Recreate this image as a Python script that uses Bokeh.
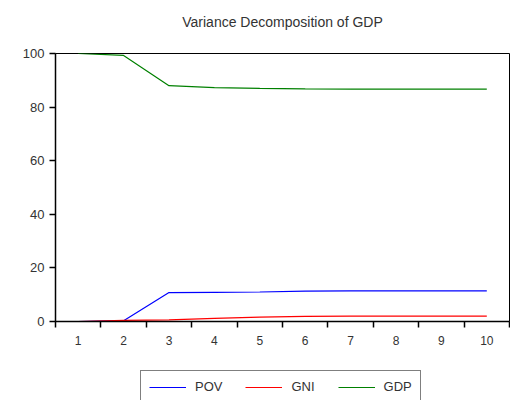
from bokeh.plotting import figure
from bokeh.layouts import column
from bokeh.models import FixedTicker, Legend, LegendItem, Range1d, Title
from bokeh.embed import file_html
from bokeh.resources import INLINE

periods = [1, 2, 3, 4, 5, 6, 7, 8, 9, 10]
pov = [0.0, 0.3, 10.8, 10.9, 11.0, 11.3, 11.4, 11.4, 11.4, 11.4]
gni = [0.0, 0.4, 0.6, 1.2, 1.6, 1.9, 2.0, 2.0, 2.0, 2.0]
gdp = [100.0, 99.3, 88.0, 87.3, 87.0, 86.8, 86.7, 86.7, 86.7, 86.7]
series_names = ["POV", "GNI", "GDP"]
series_colors = ["#0000FF", "#FF0000", "#008000"]
y_ticks = [0, 20, 40, 60, 80, 100]
boundaries = [0.5 + i for i in range(11)]

FONT = "Liberation Sans"

p = figure(width=510, height=360, output_backend="svg", toolbar_location=None,
           x_range=Range1d(0.5, 10.5), y_range=Range1d(0, 100),
           min_border_left=55, min_border_right=1, min_border_top=53,
           min_border_bottom=39)

p.title.text = "Variance Decomposition of GDP"
p.title.align = "center"
p.title.text_font = FONT
p.title.text_font_size = "14px"
p.title.text_font_style = "normal"
p.title.text_color = "#333333"
p.title.standoff = 12
# empty spacer between title and plot frame
p.add_layout(Title(text=" ", text_font_size="14px", standoff=0), "above")

p.xgrid.visible = False
p.ygrid.visible = False
p.outline_line_color = "black"
p.outline_line_width = 1
p.background_fill_color = "white"
p.border_fill_color = "white"

for ys, c in zip([pov, gni, gdp], series_colors):
    p.line(periods, ys, line_color=c, line_width=1.2)

xa = p.xaxis[0]
xa.ticker = FixedTicker(ticks=periods, minor_ticks=boundaries)
xa.major_tick_out = 0
xa.major_tick_in = 0
xa.minor_tick_out = 6
xa.minor_tick_in = 0
xa.minor_tick_line_color = "black"
xa.minor_tick_line_width = 1.5
xa.axis_line_color = "black"
xa.axis_line_width = 1.5
xa.major_label_standoff = 8
xa.major_label_text_font = FONT
xa.major_label_text_font_size = "12px"
xa.major_label_text_color = "#333333"

ya = p.yaxis[0]
ya.ticker = FixedTicker(ticks=y_ticks)
ya.major_tick_out = 6
ya.major_tick_in = 0
ya.minor_tick_line_color = None
ya.major_tick_line_color = "black"
ya.major_tick_line_width = 1.5
ya.axis_line_color = "black"
ya.axis_line_width = 1.5
ya.major_label_standoff = 5
ya.major_label_text_font = FONT
ya.major_label_text_font_size = "13px"
ya.major_label_text_color = "#333333"

# legend strip below the chart; proxy lines are squeezed into a tiny spot
# that the opaque legend box covers
p2 = figure(width=510, height=40, output_backend="svg", toolbar_location=None,
            x_range=Range1d(-200, 200), y_range=Range1d(-2000, 2000),
            x_axis_type=None, y_axis_type=None,
            min_border_left=0, min_border_right=0, min_border_top=0,
            min_border_bottom=0)
p2.xgrid.visible = False
p2.ygrid.visible = False
p2.outline_line_color = None
p2.border_fill_color = "white"
p2.background_fill_color = "white"

items = []
for name, ys, c in zip(series_names, [pov, gni, gdp], series_colors):
    r = p2.line(periods, ys, line_color=c, line_width=1.2)
    items.append(LegendItem(label=name, renderers=[r]))

legend = Legend(items=items, orientation="horizontal", location=(85, -3),
                label_text_font=FONT, label_text_font_size="13px",
                label_text_color="#333333",
                glyph_width=37, glyph_height=14, label_height=14,
                label_standoff=9, spacing=23,
                padding=8, margin=0,
                background_fill_color="white", background_fill_alpha=1.0,
                border_line_color="black", border_line_width=1.5)
p2.add_layout(legend, "center")

layout = column(p, p2, spacing=0)
open("out.html", "w").write(file_html(layout, INLINE))
